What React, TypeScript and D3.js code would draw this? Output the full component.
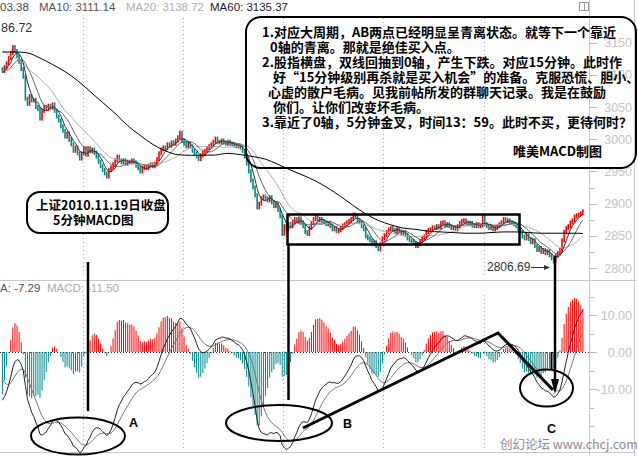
import React from 'react';
import * as d3 from 'd3';

// 5-minute closes (Shanghai index), left to right
const closes: number[] = [
  3106, 3112, 3118, 3126, 3134, 3143, 3137, 3129, 3120, 3109,
  3097, 3063, 3055, 3067, 3060, 3061, 3050, 3047, 3032, 3044,
  3050, 3047, 3052, 3049, 3054, 3044, 3035, 3029, 3020, 3013,
  3004, 3009, 2999, 2992, 2982, 2987, 2978, 2970, 2978, 2986,
  2976, 2986, 2981, 2984, 2979, 2973, 2965, 2958, 2952, 2947,
  2942, 2952, 2956, 2961, 2967, 2973, 2967, 2964, 2967, 2962,
  2965, 2964, 2967, 2964, 2959, 2955, 2950, 2955, 2958, 2955,
  2959, 2961, 2958, 2962, 2969, 2978, 2984, 2987, 2986, 2992,
  2990, 2995, 2993, 2998, 3003, 3010, 2998, 2993, 2989, 2993,
  2989, 2982, 2978, 2973, 2969, 2975, 2979, 2982, 2986, 2989,
  2992, 2996, 3001, 2996, 2995, 2998, 2995, 2993, 2996, 2993,
  2992, 2990, 2989, 2990, 2987, 2982, 2973, 2962, 2950, 2936,
  2925, 2913, 2894, 2900, 2908, 2911, 2908, 2905, 2910, 2902,
  2896, 2899, 2890, 2880, 2853, 2865, 2860, 2868, 2865, 2871,
  2876, 2873, 2877, 2871, 2865, 2856, 2853, 2862, 2870, 2876,
  2879, 2874, 2876, 2873, 2871, 2868, 2870, 2865, 2860, 2862,
  2857, 2859, 2862, 2866, 2868, 2871, 2873, 2876, 2883, 2880,
  2874, 2871, 2865, 2860, 2849, 2846, 2843, 2837, 2840, 2834,
  2829, 2837, 2846, 2851, 2856, 2860, 2862, 2859, 2856, 2860,
  2857, 2854, 2856, 2851, 2846, 2843, 2842, 2839, 2834, 2837,
  2842, 2846, 2849, 2856, 2859, 2860, 2863, 2862, 2865, 2863,
  2870, 2871, 2866, 2868, 2865, 2862, 2863, 2860, 2865, 2870,
  2873, 2874, 2871, 2868, 2870, 2866, 2865, 2868, 2865, 2866,
  2879, 2868, 2865, 2862, 2863, 2860, 2862, 2865, 2868, 2871,
  2876, 2873, 2874, 2871, 2870, 2868, 2865, 2860, 2856, 2849,
  2846, 2851, 2845, 2840, 2843, 2834, 2828, 2831, 2825, 2828,
  2823, 2826, 2820, 2815, 2811, 2819, 2823, 2828, 2843, 2856,
  2862, 2865, 2871, 2874, 2880, 2882, 2883, 2885, 2888,
];

// closes before the visible window (needed for MA5 / MA10 / MA20 at the left edge)
const priorCloses: number[] = [
  3175, 3172, 3170, 3168, 3171, 3166, 3163, 3160, 3158, 3160,
  3140, 3128, 3115, 3108, 3103.5, 3100, 3098, 3104, 3108.9,
];

// MA60, every 6th bar plus the last bar
const ma60Values: number[] = [
  3135.37, 3135.5, 3134, 3126, 3116, 3105, 3091, 3074, 3057, 3040,
  3021, 3006, 2992, 2982, 2976, 2975, 2975, 2975.5, 2978, 2976,
  2973, 2969, 2961, 2952, 2944, 2935, 2924, 2911, 2897, 2884,
  2874, 2867, 2862, 2860, 2857, 2856, 2855, 2854, 2854, 2855,
  2856, 2856, 2855, 2854, 2854, 2854, 2854, 2853.5,
];

const lowBar = 264;
const lowValue = 2806.69;

// MACD state at the first visible bar
const ema12Start = 3111.96;
const ema26Start = 3125.0;
const deaStart = -7.29;

const priceTicks = [2800, 2850, 2900, 2950, 3000, 3050, 3100, 3150];
const macdTicks = [-10, 0, 10];
const dayBreaks = [38.5, 86.5, 134.5, 182.5, 230.5];

const maLabels = ['03.38', 'MA10: 3111.14', 'MA20: 3138.72', 'MA60: 3135.37'];
const macdLabels = ['A: -7.29', 'MACD: -11.50'];
const highLabel = '86.72';
const lowLabel = '2806.69';

const noteLines = [
  '1.对应大周期，AB两点已经明显呈青离状态。就等下一个靠近',
  '0轴的青离。那就是绝佳买入点。',
  '2.股指横盘，双线回抽到0轴，产生下跌。对应15分钟。此时作',
  '好“15分钟级别再杀就是买入机会”的准备。克服恐慌、胆小、',
  '心虚的散户毛病。见我前帖所发的群聊天记录。我是在鼓励',
  '你们。让你们改变坏毛病。',
  '3.靠近了0轴，5分钟金叉，时间13：59。此时不买，更待何时？',
];
const noteSign = '唯美MACD制图';
const titleLines = ['上证2010.11.19日收盘', '5分钟MACD图'];
const watermark = '创幻论坛 www.chcj.com';

const RED = '#ff0000';
const TEAL = '#008a8a';
const NUM_FONT = '"Liberation Sans", Arial, sans-serif';
const CJK_FONT = '"Noto Sans CJK SC", "Noto Sans", sans-serif';

export default function App() {
  const n = closes.length;
  const x = d3.scaleLinear().domain([0, n - 1]).range([2.4, 582.9]);
  const yP = d3.scaleLinear().domain([2800, 3150]).range([268, 42.6]);
  const yM = d3.scaleLinear().domain([-10, 10]).range([389, 315]);

  const off = priorCloses.length;
  const full = priorCloses.concat(closes);
  const opens = closes.map((_, i) => full[i + off - 1]);
  const maOf = (len: number) =>
    closes.map((_, i) => d3.mean(full.slice(i + off - len + 1, i + off + 1)) as number);
  const ma5 = maOf(5);
  const ma10 = maOf(10);
  const ma20 = maOf(20);
  const ma60Bars = d3.range(0, n - 2, 6).concat([n - 1]);

  // MACD
  const e12: number[] = [];
  const e26: number[] = [];
  const dif: number[] = [];
  const dea: number[] = [];
  const hist: number[] = [];
  closes.forEach((c, i) => {
    if (i === 0) {
      e12.push(ema12Start);
      e26.push(ema26Start);
      dif.push(ema12Start - ema26Start);
      dea.push(deaStart);
    } else {
      e12.push((2 * c + 11 * e12[i - 1]) / 13);
      e26.push((2 * c + 25 * e26[i - 1]) / 27);
      dif.push(e12[i] - e26[i]);
      dea.push((2 * dif[i] + 8 * dea[i - 1]) / 10);
    }
    hist.push(2 * (dif[i] - dea[i]));
  });

  const lineP = d3.line<number>().x((_, i) => x(i)).y((d) => yP(d));
  const lineM = d3.line<number>().x((_, i) => x(i)).y((d) => yM(d));
  const line60 = d3
    .line<number>()
    .x((_, k) => x(ma60Bars[k]))
    .y((d) => yP(d))
    .curve(d3.curveMonotoneX);

  const minorPrice = d3.range(2800, 3176, 25).filter((p) => p % 50 !== 0);
  const minorMacd = [-20, -15, -5, 5, 15];
  const maColors = ['#444', '#555', '#b0b0b0', '#1a1a1a'];
  const maX = [0, 39, 126, 210];
  const noteX = [262, 270, 262, 273, 268, 273, 262];

  return (
    <svg
      width={638}
      height={456}
      style={{ position: 'absolute', left: 0, top: 0, background: '#fff' }}
    >
      <rect width={638} height={456} fill="#fff" />

      {/* frame */}
      <line x1={0} x2={636} y1={280.5} y2={280.5} stroke="#c8c8c8" />
      <line x1={0} x2={636} y1={452.5} y2={452.5} stroke="#c8c8c8" />
      <line x1={589.5} x2={589.5} y1={0} y2={456} stroke="#c8c8c8" />
      <line x1={634.5} x2={634.5} y1={0} y2={456} stroke="#c8c8c8" />
      <rect x={579.5} y={2.5} width={9} height={8} fill="none" stroke="#999" />
      <line x1={584.5} x2={584.5} y1={2.5} y2={10.5} stroke="#999" />

      {/* day grid */}
      {dayBreaks.map((b) => {
        const xx = Math.round(x(b)) + 0.5;
        return (
          <g key={b}>
            <line x1={xx} x2={xx} y1={18} y2={277} stroke="#b0b0b0" strokeDasharray="1,3" />
            <line x1={xx} x2={xx} y1={295} y2={451} stroke="#b0b0b0" strokeDasharray="1,3" />
          </g>
        );
      })}

      {/* price axis */}
      {priceTicks.map((p) => (
        <g key={p}>
          <line x1={590} x2={597} y1={Math.round(yP(p)) + 0.5} y2={Math.round(yP(p)) + 0.5} stroke="#b8b8b8" />
          <text x={632} y={yP(p) + 4.5} textAnchor="end" fontSize={12.5} fontFamily={NUM_FONT} fill="#c4c4c4">
            {p}
          </text>
        </g>
      ))}
      {minorPrice.map((p) => (
        <line key={p} x1={590} x2={594} y1={Math.round(yP(p)) + 0.5} y2={Math.round(yP(p)) + 0.5} stroke="#b8b8b8" />
      ))}

      {/* macd axis */}
      {macdTicks.map((v) => (
        <g key={v}>
          <line x1={590} x2={597} y1={Math.round(yM(v)) + 0.5} y2={Math.round(yM(v)) + 0.5} stroke="#b8b8b8" />
          <text x={632} y={yM(v) + 4.5} textAnchor="end" fontSize={12.5} fontFamily={NUM_FONT} fill="#c4c4c4">
            {v.toFixed(2)}
          </text>
        </g>
      ))}
      {minorMacd.map((v) => (
        <line key={v} x1={590} x2={594} y1={Math.round(yM(v)) + 0.5} y2={Math.round(yM(v)) + 0.5} stroke="#b8b8b8" />
      ))}
      <line x1={0} x2={589} y1={Math.round(yM(0)) + 0.5} y2={Math.round(yM(0)) + 0.5} stroke="#222" strokeDasharray="1,2" />

      {/* candles */}
      {closes.map((c, i) => {
        const o = opens[i];
        const up = c >= o;
        const top = yP(Math.max(o, c)) - 2;
        let bot = yP(Math.min(o, c)) + 2;
        if (i === lowBar) bot = yP(lowValue);
        return (
          <rect
            key={i}
            x={x(i) - 0.8}
            y={top}
            width={1.6}
            height={Math.max(bot - top, 2)}
            fill={up ? RED : TEAL}
          />
        );
      })}

      {/* moving averages */}
      <path d={lineP(ma20) || ''} fill="none" stroke="#b0b0b0" strokeWidth={1} />
      <path d={lineP(ma10) || ''} fill="none" stroke="#666" strokeWidth={1} />
      <path d={lineP(ma5) || ''} fill="none" stroke="#333" strokeWidth={1} />
      <path d={line60(ma60Values) || ''} fill="none" stroke="#000" strokeWidth={1} />

      {/* MACD histogram */}
      {hist.map((h, i) => {
        const y0 = yM(0);
        const y1 = yM(h);
        return (
          <rect
            key={i}
            x={x(i) - 0.5}
            y={Math.min(y0, y1)}
            width={1}
            height={Math.abs(y1 - y0)}
            fill={h >= 0 ? RED : TEAL}
          />
        );
      })}
      <path d={lineM(dea) || ''} fill="none" stroke="#777" strokeWidth={1} />
      <path d={lineM(dif) || ''} fill="none" stroke="#222" strokeWidth={1} />

      {/* header texts */}
      {maLabels.map((t, k) => (
        <text key={t} x={maX[k]} y={11} fontSize={11.5} fontFamily={NUM_FONT} fill={maColors[k]}>
          {t}
        </text>
      ))}
      <text x={1} y={32} fontSize={12.5} fontFamily={NUM_FONT} fill="#333">
        {highLabel}
      </text>
      <text x={0} y={292} fontSize={11.5} fontFamily={NUM_FONT} fill="#555">
        {macdLabels[0]}
      </text>
      <text x={47} y={292} fontSize={11.5} fontFamily={NUM_FONT} fill="#aaa">
        {macdLabels[1]}
      </text>

      {/* annotations: price panel */}
      <rect x={246} y={17} width={390} height={151} rx={15} ry={15} fill="none" stroke="#000" strokeWidth={2} />
      {noteLines.map((t, k) => (
        <text key={k} x={noteX[k]} y={37 + k * 15} fontSize={13} fontWeight={700} fontFamily={CJK_FONT} fill="#000">
          {t}
        </text>
      ))}
      <text x={513} y={156} fontSize={13} fontWeight={700} fontFamily={CJK_FONT} fill="#000">
        {noteSign}
      </text>

      <rect x={27} y={192} width={141} height={41} rx={13} ry={13} fill="#fff" stroke="#000" strokeWidth={2} />
      <text x={36} y={210} fontSize={12.5} fontWeight={700} fontFamily={CJK_FONT} fill="#000">
        {titleLines[0]}
      </text>
      <text x={53} y={225} fontSize={12.5} fontWeight={700} fontFamily={CJK_FONT} fill="#000">
        {titleLines[1]}
      </text>

      <rect x={287.5} y={214.5} width={232} height={30} fill="none" stroke="#000" strokeWidth={2.5} />

      <text x={487} y={271} fontSize={12} fontFamily={NUM_FONT} fill="#333">
        {lowLabel}
      </text>
      <line x1={531} x2={546} y1={267.5} y2={267.5} stroke="#333" strokeWidth={1} />
      <polygon points="550,267.5 544,265 544,270" fill="#333" />

      {/* connectors */}
      <line x1={88} x2={88} y1={262} y2={411} stroke="#000" strokeWidth={2.5} />
      <line x1={288.5} x2={288.5} y1={244} y2={400} stroke="#000" strokeWidth={2.5} />
      <line x1={555} x2={555} y1={256} y2={382} stroke="#000" strokeWidth={2.5} />
      <polygon points="551,379 559,379 555,394" fill="#000" />
      <line x1={551.5} x2={551.5} y1={352} y2={370} stroke="#000" strokeWidth={2} />

      {/* annotations: MACD panel */}
      <ellipse cx={78} cy={436} rx={47} ry={18.5} fill="none" stroke="#000" strokeWidth={2} />
      <ellipse cx={279} cy={423} rx={53} ry={18} fill="none" stroke="#000" strokeWidth={2} />
      <ellipse cx={546.5} cy={388} rx={26.5} ry={18.5} fill="none" stroke="#000" strokeWidth={2} />
      <polyline points="303,428 498,333 553,390" fill="none" stroke="#000" strokeWidth={3} />
      <text x={129} y={427} fontSize={12.5} fontWeight={700} fontFamily={NUM_FONT} fill="#000">A</text>
      <text x={343} y={428} fontSize={12.5} fontWeight={700} fontFamily={NUM_FONT} fill="#000">B</text>
      <text x={547} y={433} fontSize={12.5} fontWeight={700} fontFamily={NUM_FONT} fill="#000">C</text>

      <text x={500} y={449} fontSize={12.5} fontFamily={CJK_FONT} fill="#8c8c8c">
        {watermark}
      </text>
    </svg>
  );
}
